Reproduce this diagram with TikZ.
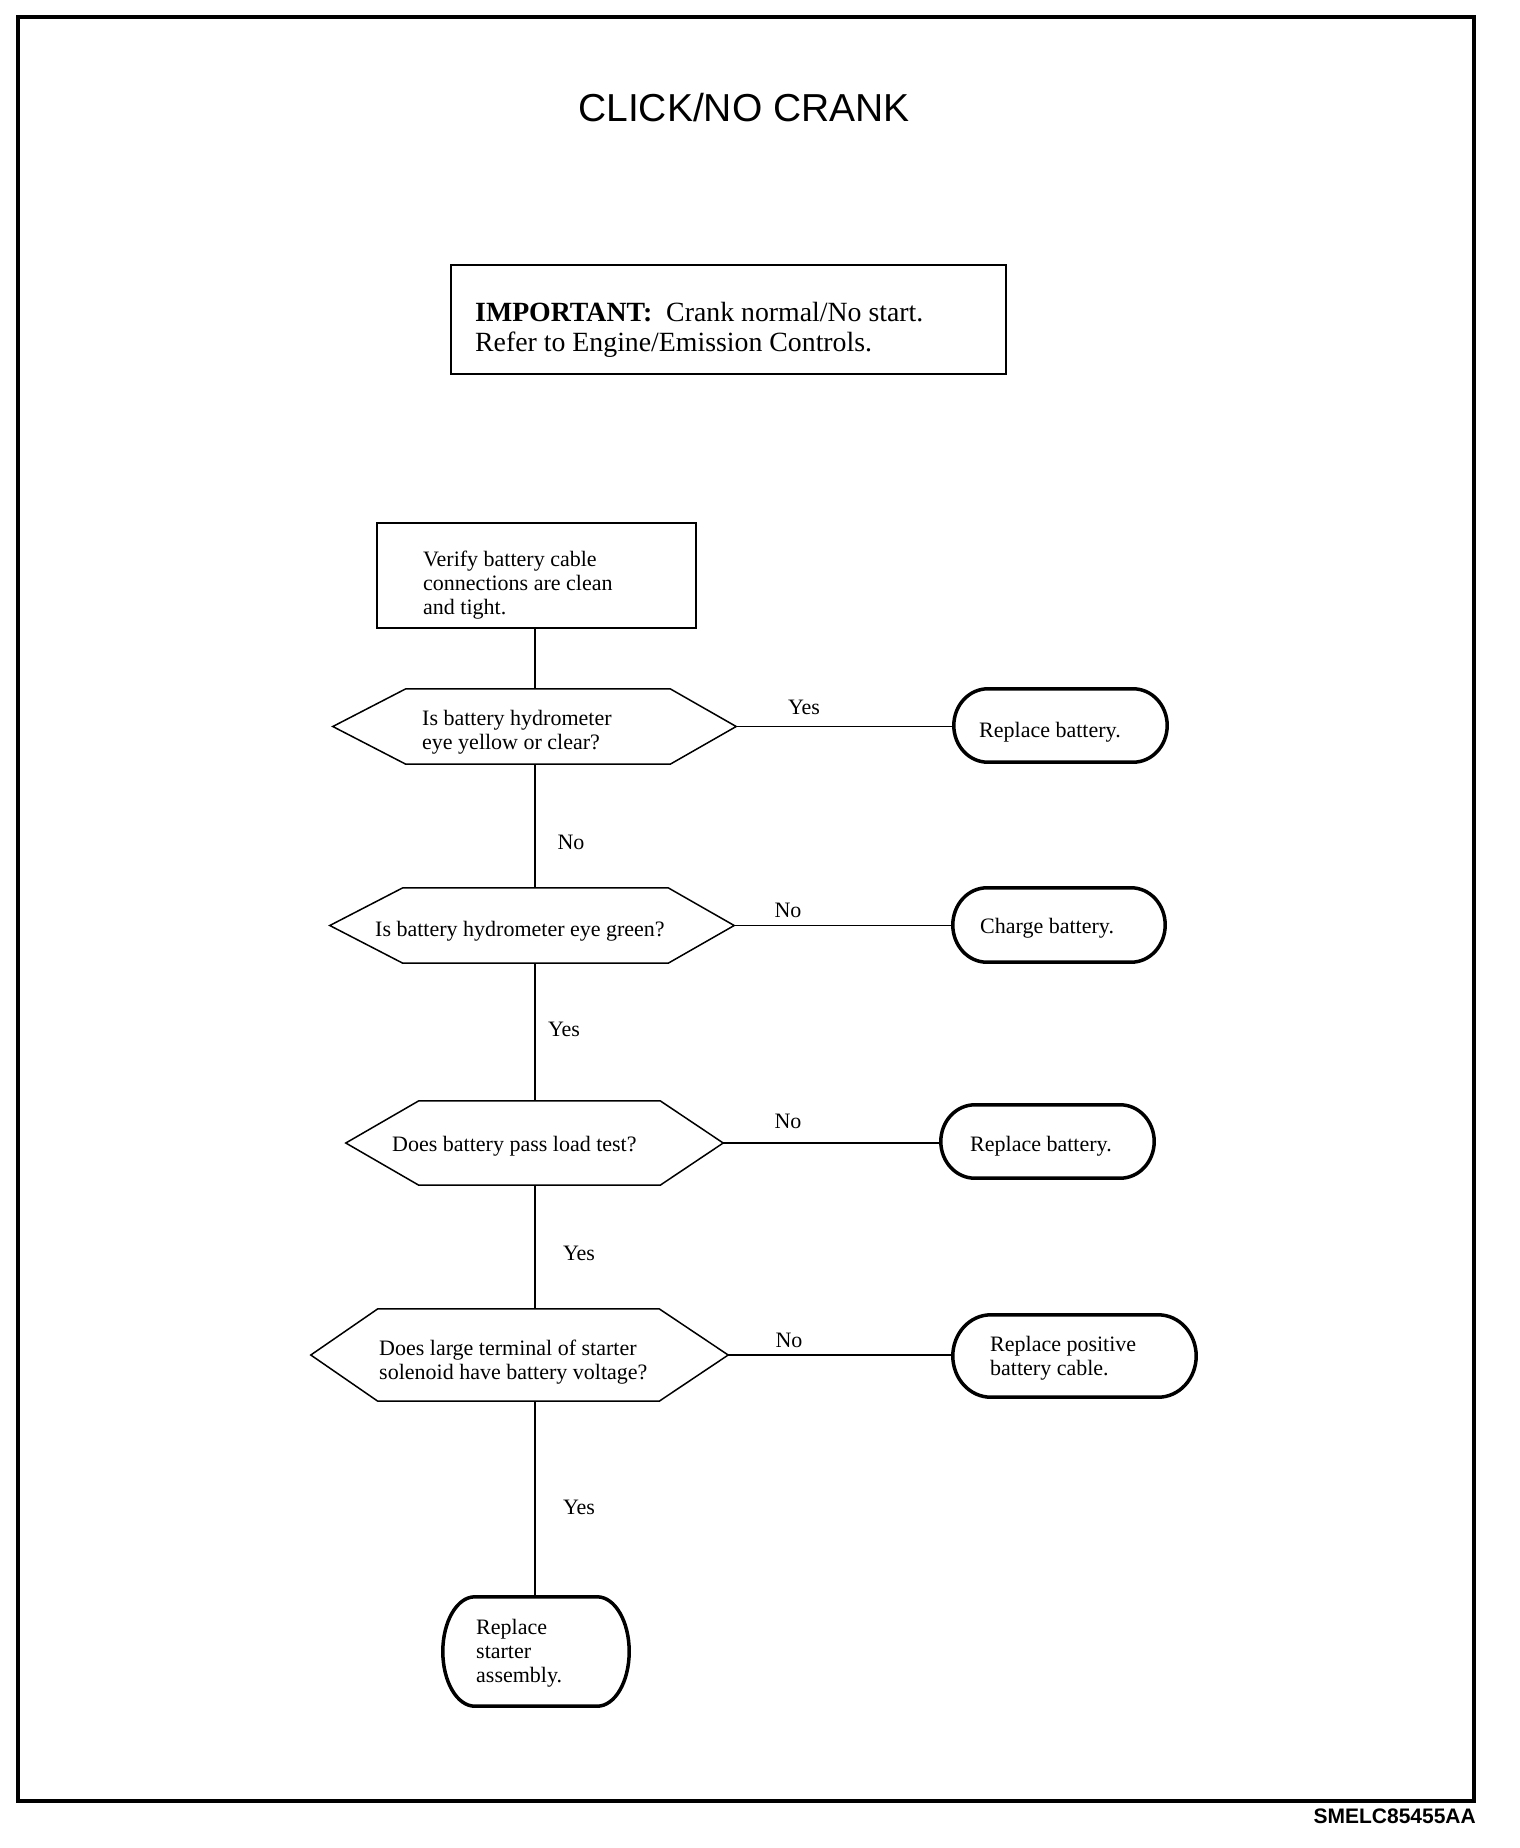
\documentclass[tikz,border=0pt]{standalone}
\usepackage{fontspec}
\setmainfont{Liberation Serif}
\newfontfamily\arialfont{Liberation Sans}
\usetikzlibrary{calc}
\newcommand\termoutline[2]{%
  \draw[termline] ($(#1.north west)+(#2,0)$) -- ($(#1.north east)+(-#2,0)$)
    .. controls ($(#1.north east)+(-0.4477*#2,0)$) and ($(#1.east)!0.5523!(#1.north east)$) .. (#1.east)
    .. controls ($(#1.east)!0.5523!(#1.south east)$) and ($(#1.south east)+(-0.4477*#2,0)$) .. ($(#1.south east)+(-#2,0)$)
    -- ($(#1.south west)+(#2,0)$)
    .. controls ($(#1.south west)+(0.4477*#2,0)$) and ($(#1.west)!0.5523!(#1.south west)$) .. (#1.west)
    .. controls ($(#1.west)!0.5523!(#1.north west)$) and ($(#1.north west)+(0.4477*#2,0)$) .. ($(#1.north west)+(#2,0)$)
    -- cycle;}
\begin{document}
\begin{tikzpicture}[x=1pt,y=-1pt,
  bodyfont/.style={font=\fontsize{22}{24}\selectfont},
  txt/.style={bodyfont, inner sep=0pt, align=left},
  rectbox/.style={draw, line width=2pt, inner sep=0pt},
  termcore/.style={inner sep=0pt},
  termline/.style={line width=3.5pt, line join=round},
  hexcore/.style={inner sep=0pt},
  hexline/.style={line width=1.5pt, line join=miter},
  conn/.style={line width=1.5pt},
  lbl/.style={bodyfont, inner sep=0pt},
]
\useasboundingbox (0,0) rectangle (1520,1848);
\draw[line width=4pt] (18,17) rectangle (1474,1801);

\node[font=\arialfont\fontsize{39}{39}\selectfont, inner sep=0pt] (title) at (744,108) {CLICK/NO CRANK};

\node[rectbox, line width=1.8pt, minimum width=555pt, minimum height=109pt] (imp) at (728.5,319.5) {};
\node[txt, anchor=west, font=\fontsize{27.8}{30}\selectfont] (impt) at (475,330) {\textbf{IMPORTANT:}\ \ Crank normal/No start.\\Refer to Engine/Emission Controls.};

\coordinate (spine) at (535,0);

% start box
\node[rectbox, minimum width=319pt, minimum height=105pt] (verify) at (536.5,575.5) {};
\node[txt, anchor=west] (verifyt) at (423,585) {Verify battery cable\\connections are clean\\and tight.};

% hexagon 1
\node[hexcore, minimum width=264pt, minimum height=75pt] (q1) at (538,726.5) {};
\draw[hexline] (q1.north west) -- (q1.north east) -- ($(q1.east)+(66,0)$) coordinate (q1r) -- (q1.south east) -- (q1.south west) -- ($(q1.west)+(-73,0)$) coordinate (q1l) -- cycle;
\node[txt, anchor=west] (q1t) at (422,732.5) {Is battery hydrometer\\eye yellow or clear?};

% hexagon 2
\node[hexcore, minimum width=265pt, minimum height=75pt] (q2) at (535.5,925.5) {};
\draw[hexline] (q2.north west) -- (q2.north east) -- ($(q2.east)+(66,0)$) coordinate (q2r) -- (q2.south east) -- (q2.south west) -- ($(q2.west)+(-73,0)$) coordinate (q2l) -- cycle;
\node[txt, anchor=west] (q2t) at (375,931) {Is battery hydrometer eye green?};

% hexagon 3
\node[hexcore, minimum width=241pt, minimum height=84pt] (q3) at (539.5,1143) {};
\draw[hexline] (q3.north west) -- (q3.north east) -- ($(q3.east)+(63,0)$) coordinate (q3r) -- (q3.south east) -- (q3.south west) -- ($(q3.west)+(-73,0)$) coordinate (q3l) -- cycle;
\node[txt, anchor=west] (q3t) at (392,1146) {Does battery pass load test?};

% hexagon 4
\node[hexcore, minimum width=281pt, minimum height=92pt] (q4) at (518.5,1355) {};
\draw[hexline] (q4.north west) -- (q4.north east) -- ($(q4.east)+(69,0)$) coordinate (q4r) -- (q4.south east) -- (q4.south west) -- ($(q4.west)+(-67,0)$) coordinate (q4l) -- cycle;
\node[txt, anchor=west] (q4t) at (379,1362) {Does large terminal of starter\\solenoid have battery voltage?};

% terminal boxes
\node[termcore, minimum width=213pt, minimum height=73pt] (r1) at (1060.5,725.5) {};
\termoutline{r1}{34}
\node[txt, anchor=west] (r1t) at (979,732) {Replace battery.};

\node[termcore, minimum width=212pt, minimum height=74pt] (r2) at (1059,925) {};
\termoutline{r2}{34}
\node[txt, anchor=west] (r2t) at (980,928.5) {Charge battery.};

\node[termcore, minimum width=213pt, minimum height=73pt] (r3) at (1047.5,1141.5) {};
\termoutline{r3}{34}
\node[txt, anchor=west] (r3t) at (970,1146.5) {Replace battery.};

\node[termcore, minimum width=243pt, minimum height=82pt] (r4) at (1074.5,1356) {};
\termoutline{r4}{38}
\node[txt, anchor=west] (r4t) at (990,1358.5) {Replace positive\\battery cable.};

\node[termcore, minimum width=186pt, minimum height=109pt] (r5) at (536,1651.5) {};
\termoutline{r5}{32}
\node[txt, anchor=west] (r5t) at (476,1653.5) {Replace\\starter\\assembly.};

% connectors
\draw[conn] (verify.south -| spine) -- (q1.north -| spine);
\draw[conn] (q1.south -| spine) -- (q2.north -| spine);
\draw[conn] (q2.south -| spine) -- (q3.north -| spine);
\draw[conn] (q3.south -| spine) -- (q4.north -| spine);
\draw[conn] (q4.south -| spine) -- (r5.north -| spine);
\draw[conn] (q1r) -- (q1r -| r1.west);
\draw[conn] (q2r) -- (q2r -| r2.west);
\draw[conn] (q3r) -- (q3r -| r3.west);
\draw[conn] (q4r) -- (q4r -| r4.west);

% labels
\node[lbl] (l1) at (804,707) {Yes};
\node[lbl] (l2) at (571,842) {No};
\node[lbl] (l3) at (788,910) {No};
\node[lbl] (l4) at (564,1029) {Yes};
\node[lbl] (l5) at (788,1121) {No};
\node[lbl] (l6) at (579,1253) {Yes};
\node[lbl] (l7) at (789,1340) {No};
\node[lbl] (l8) at (579,1507) {Yes};

\node[font=\arialfont\bfseries\fontsize{21}{21}\selectfont, anchor=east, inner sep=0pt] (code) at (1476,1816) {SMELC85455AA};
\end{tikzpicture}
\end{document}
